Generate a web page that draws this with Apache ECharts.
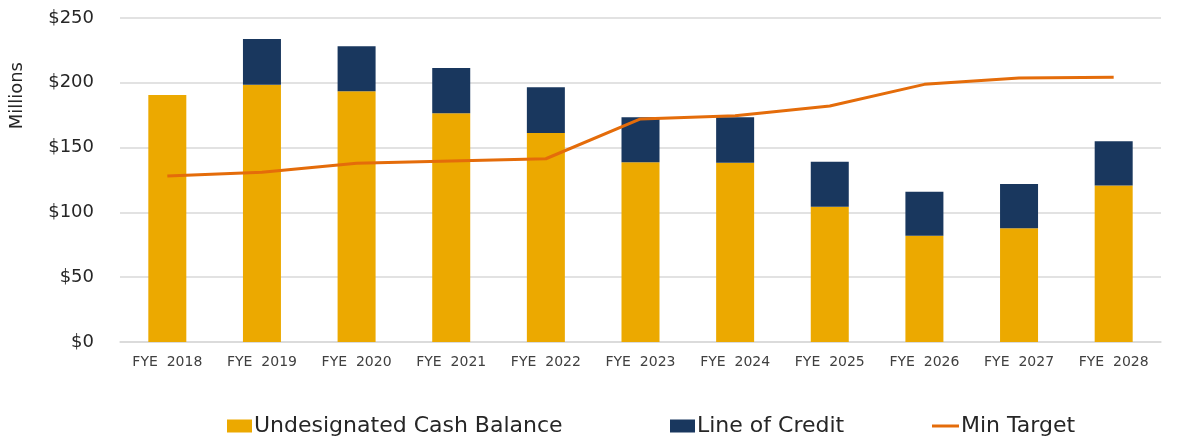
<!DOCTYPE html>
<html>
<head>
<meta charset="utf-8">
<script src="https://cdn.jsdelivr.net/npm/echarts@6/dist/echarts.min.js"></script>
<style>
  html, body { margin: 0; padding: 0; background: #fff; }
  #chart { width: 1180px; height: 438px; }
</style>
</head>
<body>
<div id="chart"></div>
<script>
  // values, in $ millions
  var years = ['FYE  2018', 'FYE  2019', 'FYE  2020', 'FYE  2021', 'FYE  2022', 'FYE  2023',
               'FYE  2024', 'FYE  2025', 'FYE  2026', 'FYE  2027', 'FYE  2028'];
  var cashBalance = [190.6, 198.5, 193.4, 176.5, 161.3, 138.7, 138.4, 104.4, 82.0, 87.7, 120.8];
  var lineOfCredit = [0, 35.3, 34.8, 34.9, 35.2, 34.7, 35.0, 34.7, 34.0, 34.2, 34.1];
  var minTarget = [128.1, 130.9, 137.9, 139.7, 141.4, 172.1, 174.6, 182.1, 198.8, 203.7, 204.2];
  var yTicks = [0, 50, 100, 150, 200, 250];

  var font = '"DejaVu Sans", sans-serif';
  var chart = echarts.init(document.getElementById('chart'));

  function legendAt(name, left, icon, h) {
    return {
      data: [{ name: name, icon: icon }],
      left: left,
      top: 408,
      itemWidth: icon === 'rect' ? 25 : 27,
      itemHeight: h,
      itemGap: 0,
      textStyle: { fontFamily: font, fontSize: 22, lineHeight: 26, color: '#262626', padding: [0, 0, 0, -3] }
    };
  }

  chart.setOption({
    animation: false,
    color: ['#ECA900', '#19375E', '#E46C0A'],
    grid: { left: 120, right: 19, top: 18, bottom: 96 },
    legend: [
      legendAt('Undesignated Cash Balance', 222, 'rect', 13),
      legendAt('Line of Credit', 665, 'rect', 13),
      legendAt('Min Target', 927, 'path://M0,0L27,0L27,3L0,3Z', 3)
    ],
    graphic: [{
      type: 'text',
      left: 8,
      top: 62,
      rotation: Math.PI / 2,
      style: { text: 'Millions', fontFamily: font, fontSize: 18, fill: '#262626' }
    }],
    xAxis: {
      type: 'category',
      data: years,
      axisTick: { show: false },
      axisLine: { lineStyle: { color: '#D9D9D9', width: 1.5 } },
      axisLabel: { fontFamily: font, fontSize: 14, color: '#404040', margin: 13 }
    },
    yAxis: {
      type: 'value',
      min: yTicks[0],
      max: yTicks[yTicks.length - 1],
      interval: 50,
      axisLabel: {
        fontFamily: font, fontSize: 18, color: '#262626', margin: 26,
        formatter: function (v) { return '$' + v; }
      },
      splitLine: { lineStyle: { color: '#D9D9D9', width: 1.5 } }
    },
    series: [
      {
        name: 'Undesignated Cash Balance',
        type: 'bar',
        stack: 'cash',
        barWidth: 38,
        data: cashBalance
      },
      {
        name: 'Line of Credit',
        type: 'bar',
        stack: 'cash',
        barWidth: 38,
        data: lineOfCredit
      },
      {
        name: 'Min Target',
        type: 'line',
        symbol: 'none',
        lineStyle: { width: 3, color: '#E46C0A' },
        data: minTarget
      }
    ]
  });
</script>
</body>
</html>
